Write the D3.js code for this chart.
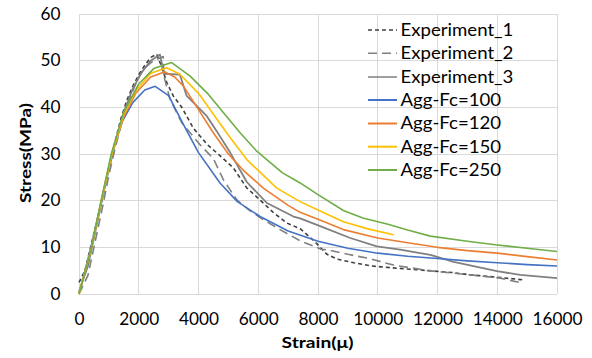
<!DOCTYPE html>
<html><head><meta charset="utf-8">
<script src="https://cdn.jsdelivr.net/npm/d3@7"></script>
<style>body{margin:0;background:#fff;}svg{display:block;}</style>
</head><body>
<svg id="chart" width="592" height="358"></svg>
<script>
const xTicks = [0,2000,4000,6000,8000,10000,12000,14000,16000];
const yTicks = [0,10,20,30,40,50,60];
const seriesNames = ["Experiment_1","Experiment_2","Experiment_3","Agg-Fc=100","Agg-Fc=120","Agg-Fc=150","Agg-Fc=250"];

const exp1 = [[0,2.5],[200,5],[500,13],[800,21],[1000,27],[1200,32.5],[1400,37.5],[1600,41.5],[1800,44.5],[2000,47],[2200,49],[2400,50.7],[2600,51.4],[2750,49],[2940,45.3],[3160,42.4],[3440,40],[3830,35.5],[4300,32],[4830,29],[5170,27],[5617,22.7],[6000,20.5],[6500,17.5],[6960,15.2],[7400,14],[7850,11.5],[8300,8.5],[8630,7.5],[9200,6.7],[9800,6],[10500,5.6],[11300,5.2],[12500,4.6],[13100,4.1],[14000,3.6],[14900,3.0]];
const exp2 = [[0,0],[300,4],[500,10],[800,19],[1000,25.5],[1200,31],[1400,36],[1600,40],[1800,43.5],[2000,46.5],[2200,48.5],[2500,50],[2820,50.9],[2840,46.7],[3050,41.7],[3440,36.7],[4050,32],[4500,29],[4830,24.5],[5280,20.2],[5670,18.1],[6200,15.8],[6730,13.8],[7400,11.4],[7960,10],[8100,9.6],[8300,9.5],[9000,8.5],[9640,7.7],[10530,6.2],[11700,5.0],[13100,4.1],[14100,3.4],[14720,2.5]];
const exp3 = [[0,0.5],[300,6],[600,15],[900,24],[1200,32],[1500,39],[1800,44],[2100,47.5],[2400,50],[2710,51.3],[2850,47.2],[3380,47],[3600,42.5],[3940,40.3],[4280,38.1],[4610,34.9],[5060,30.3],[5617,24],[6290,19.5],[7180,16.6],[7400,16.2],[8050,14.6],[9080,12],[9970,10.2],[10750,9.5],[11420,8.75],[11760,8.4],[12540,6.9],[13990,4.9],[14770,4.1],[16000,3.4]];
const fc100 = [[0,0],[400,10],[750,20],[1100,30],[1450,37],[1800,41],[2200,43.7],[2550,44.5],[3000,42.5],[3440,37],[4000,30.3],[4720,23.8],[5300,19.8],[6060,16.6],[7000,13.5],[8000,11.3],[9000,9.8],[10000,8.75],[11000,8.1],[12000,7.6],[13000,7.1],[14000,6.7],[15000,6.3],[16000,6.0]];
const fc120 = [[0,0],[420,10],[750,20],[1100,30],[1500,38],[1900,43],[2400,46.5],[2880,47.6],[3200,46.5],[3490,44.6],[4000,39.5],[4500,34.5],[5000,30],[5500,26.5],[6170,22.7],[7000,19],[7400,17.5],[8000,16],[8850,13.8],[10000,12],[11000,11],[12000,10],[13000,9.3],[14000,8.75],[15000,8],[16000,7.3]];
const fc150 = [[0,0],[420,10],[750,20],[1100,30],[1500,38.5],[1900,43.5],[2400,47.3],[2935,48.5],[3380,47.1],[4000,43],[4500,38.5],[5000,34],[5617,28.8],[6620,22.7],[7400,19.8],[8000,18],[8850,15.5],[9700,13.9],[10530,12.7]];
const fc250 = [[0,0],[420,10],[740,20],[1080,30],[1500,39],[2000,45],[2500,48.3],[3100,49.6],[3720,46.7],[4300,43],[4830,38.9],[5400,34.5],[5950,30.6],[6800,26],[7400,23.8],[8000,21.3],[8850,17.9],[9500,16.3],[10310,15.0],[11000,13.7],[11760,12.4],[13000,11.3],[14000,10.5],[15000,9.8],[16000,9.1]];

const seriesData = [exp1,exp2,exp3,fc100,fc120,fc150,fc250];
const colors = ["#404040","#808080","#808080","#4472C4","#ED7D31","#FFC000","#70AD47"];
const dashes = ["4,3","9,5",null,null,null,null,null];

const svg = d3.select("#chart");
const x = d3.scaleLinear().domain([0,16000]).range([79,557]);
const y = d3.scaleLinear().domain([0,60]).range([294,14]);
const font = "Lato, 'Open Sans', sans-serif";

function measure(str, size, weight){
  const t = svg.append("text").attr("font-family",font).attr("font-size",size)
    .attr("font-weight",weight||"normal").text(str);
  const w = t.node().getComputedTextLength(); t.remove(); return w;
}
const tickSize = 16.5, legSize = 16.5, titleSize = 16;
const tickScale = 50 / measure("16000", tickSize);
const legScale = 113 / measure("Experiment_1", legSize);
const xtScale = 72 / measure("Strain(μ)", titleSize, "bold");
const ytScale = 100 / measure("Stress(MPa)", titleSize, "bold");

// grid
svg.append("g").selectAll("line").data(yTicks).join("line")
  .attr("x1",x(0)).attr("x2",x(16000)).attr("y1",d=>y(d)).attr("y2",d=>y(d))
  .attr("stroke","#d9d9d9").attr("stroke-width",1).attr("shape-rendering","crispEdges");
svg.append("g").selectAll("line").data(xTicks).join("line")
  .attr("y1",y(0)).attr("y2",y(60)).attr("x1",d=>x(d)).attr("x2",d=>x(d))
  .attr("stroke","#d9d9d9").attr("stroke-width",1).attr("shape-rendering","crispEdges");

const xAxis = svg.append("g").attr("transform",`translate(0,${y(0)})`)
  .call(d3.axisBottom(x).tickValues(xTicks).tickSize(0).tickPadding(19).tickFormat(d3.format("d")));
const yAxis = svg.append("g").attr("transform",`translate(${x(0)},0)`)
  .call(d3.axisLeft(y).tickValues(yTicks).tickSize(0).tickFormat(d3.format("d")));
[xAxis,yAxis].forEach(a=>{
  a.select(".domain").remove();
  a.selectAll("text").attr("font-family",font).attr("font-size",tickSize).attr("fill","#000")
    .attr("transform",`scale(${tickScale},1)`);
});
yAxis.selectAll("text").attr("x", -18.5/tickScale);

const line = d3.line().x(d=>x(d[0])).y(d=>y(d[1]));
seriesData.forEach((s,i)=>{
  svg.append("path").datum(s).attr("d",line).attr("fill","none")
    .attr("stroke",colors[i]).attr("stroke-width",i===2?1.8:1.6)
    .attr("stroke-dasharray",dashes[i]).attr("stroke-linejoin","round");
});

// legend
const legY = [30,53.3,77,100,123.5,146.7,170];
const leg = svg.append("g");
seriesNames.forEach((n,i)=>{
  leg.append("line").attr("x1",368).attr("x2",397).attr("y1",legY[i]).attr("y2",legY[i])
    .attr("stroke",colors[i]).attr("stroke-width",i>=3?2:1.5).attr("stroke-dasharray",dashes[i]);
  leg.append("text").attr("transform",`translate(400.5,${legY[i]}) scale(${legScale},1)`)
    .attr("dy","0.36em").attr("font-family",font).attr("font-size",legSize).text(n);
});

svg.append("text").attr("transform",`translate(317.5,348) scale(${xtScale},1)`).attr("text-anchor","middle")
  .attr("font-family",font).attr("font-weight","bold").attr("font-size",titleSize).text("Strain(μ)");
svg.append("text").attr("transform",`translate(31,153) rotate(-90) scale(${ytScale},1)`).attr("text-anchor","middle")
  .attr("font-family",font).attr("font-weight","bold").attr("font-size",titleSize).text("Stress(MPa)");
</script>
</body></html>
